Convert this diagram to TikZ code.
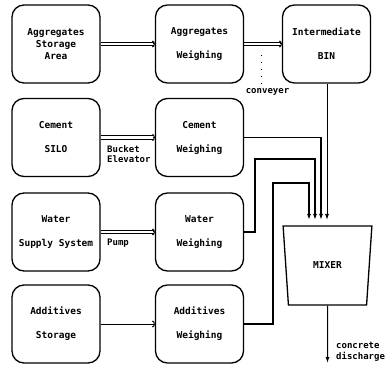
\documentclass[tikz,border=0pt]{standalone}
\usepackage{fontspec}
\newfontfamily\dotfont{DejaVu Sans Mono}
\usetikzlibrary{arrows.meta, positioning, shapes.geometric}

\tikzset{
  unit/.style={draw, line width=1.3pt, rounded corners=12pt,
    minimum width=88pt, minimum height=78pt, align=center,
    font=\dotfont\bfseries\fontsize{9.5}{12}\selectfont},
  rail/.style={line width=1pt, shorten >=1.2pt},
  railtip/.style={line width=1pt, -{Arc Barb[length=2.5pt, width=7pt]}},
  single/.style={line width=1pt, -{Arc Barb[length=2.5pt, width=7pt]}},
  feed/.style={line width=1.8pt, -{Latex[length=6pt, width=4pt]}},
  binfeed/.style={line width=1pt, -{Latex[length=6pt, width=4pt]}},
  tag/.style={font=\dotfont\bfseries\fontsize{9}{10.5}\selectfont, align=left, inner sep=0pt},
}
% double-rail transport between two boxes
\newcommand\chute[2]{%
  \draw[rail] ([yshift=1.6pt]#1.east) -- ([yshift=1.6pt]#2.west);
  \draw[rail] ([yshift=-1.6pt]#1.east) -- ([yshift=-1.6pt]#2.west);
  \draw[railtip] ([xshift=-2pt]#2.west) -- (#2.west);}

\begin{document}
\begin{tikzpicture}[x=1pt, y=-1pt]
  \useasboundingbox (0,0) rectangle (391,366);

  % first column: sources
  \node[unit] (aggstore) at (56,44) {Aggregates\\Storage\\Area};
  \node[unit] (cemsilo) at (56,137.5) {Cement\\[12pt]SILO};
  \node[unit] (watsupply) at (56,232) {Water\\[12pt]Supply System};
  \node[unit] (addstore) at (56,324) {Additives\\[12pt]Storage};

  % second column: weighing
  \node[unit] (aggweigh) at (199.5,44) {Aggregates\\[12pt]Weighing};
  \node[unit] (cemweigh) at (199.5,137.5) {Cement\\[12pt]Weighing};
  \node[unit] (watweigh) at (199.5,232) {Water\\[12pt]Weighing};
  \node[unit] (addweigh) at (199.5,324) {Additives\\[12pt]Weighing};

  % bin and mixer
  \node[unit] (inbin) at (326.5,44) {Intermediate\\[12pt]BIN};
  \node[draw, line width=1.3pt, trapezium, shape border rotate=180,
    trapezium stretches=true, minimum width=89pt, minimum height=79pt,
    trapezium angle=80, font=\dotfont\bfseries\fontsize{9.5}{12}\selectfont]
    (mixer) at (327.5,265.5) {MIXER};

  % transport between columns
  \chute{aggstore}{aggweigh}
  \chute{aggweigh}{inbin}
  \chute{cemsilo}{cemweigh}
  \chute{watsupply}{watweigh}
  \draw[single] (addstore.east) -- (addweigh.west);

  \node[tag, anchor=west] (elevator) at (107,154) {Bucket\\Elevator};
  \node[tag, anchor=west] (pump) at (107,243) {Pump};
  \node[tag] (conveyer) at (267.5,92) {conveyer};
  \coordinate (convtop) at (261,55);
  \draw[dash pattern=on 1pt off 6pt, line width=1pt] (convtop) -- (conveyer.north -| convtop);

  % feeds into the mixer
  \coordinate (in1) at (309,220);
  \coordinate (in2) at (315,220);
  \coordinate (in3) at (321,220);
  \coordinate (in4) at (327,220);
  \draw[binfeed] (inbin.south -| in4) -- (in4);
  \draw[feed] (cemweigh.east) -| (in3);
  \draw[feed] (watweigh.east) -- (255,232) |- (315,159) -- (in2);
  \draw[feed] (addweigh.east) -- (273,324) |- (309,183) -- (in1);

  % discharge
  \coordinate (dis) at (327.5,363);
  \draw[binfeed] (mixer.south) -- (dis);
  \node[tag, anchor=west] (discharge) at (336,352) {concrete\\discharge};
\end{tikzpicture}
\end{document}
